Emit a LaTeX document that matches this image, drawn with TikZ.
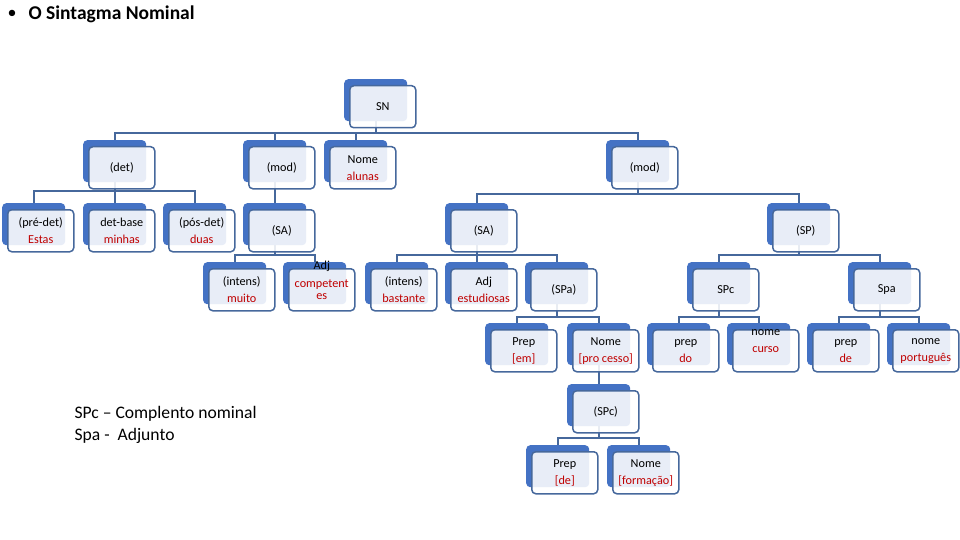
\documentclass[tikz,border=0pt]{standalone}
\usepackage{fontspec}
\setmainfont{Carlito}
\usetikzlibrary{calc}
\definecolor{backblue}{HTML}{4472C4}
\definecolor{edgeblue}{HTML}{46689C}
\definecolor{wred}{HTML}{C00000}
\pgfdeclarelayer{bg}
\pgfsetlayers{bg,main}
\tikzset{
  backbox/.style={draw=none, fill=backblue, rounded corners=4pt, minimum width=63pt, minimum height=42pt, inner sep=0pt, anchor=north west},
  frontbox/.style={draw=edgeblue, line width=1.5pt, fill=white, fill opacity=0.88, rounded corners=4pt, minimum width=66pt, minimum height=42pt, inner sep=0pt, anchor=north west},
  lbl/.style={align=center, font=\fontsize{12.2}{17}\selectfont, text=black, inner sep=0pt},
  conn/.style={draw=edgeblue, line width=1.6pt},
}
\newcommand{\tnode}[5][]{%
  \node[backbox] (#2) at (#3,#4) {};
  \node[frontbox] (#2-f) at ($(#2.north west)+(5,6)$) {};
  \node[lbl,#1] (#2-t) at (#2-f.center) {#5};
}
\newcommand{\red}[1]{\textcolor{wred}{#1}}
\newcommand{\conn}[3]{%
  \path (0,#3) coordinate (tmpy);
  \draw[conn] (#1.south) |- (#2.north |- tmpy) -- (#2.north);
}
\begin{document}
\begin{tikzpicture}[x=1pt,y=-1pt]
\useasboundingbox (0,0) rectangle (960,540);
% title
\node[anchor=center, font=\fontsize{18}{22}\selectfont] (bullet) at (12,14) {•};
\node[anchor=west, font=\fontsize{19.5}{22}\selectfont\bfseries] (title) at (25,14) {O Sintagma Nominal};
% legend
\node[anchor=west, align=left, font=\fontsize{17.6}{22}\selectfont] (legend) at (71,425) {SPc -- Complento nominal\\Spa -\ \ Adjunto};
% tree nodes
\tnode{sn}{344}{79}{SN}
\tnode{det}{83}{140}{(det)}
\tnode{modl}{243}{140}{(mod)}
\tnode{nome}{324}{140}{Nome\\\red{alunas}}
\tnode{modr}{606}{140}{(mod)}
\tnode{predet}{2}{203}{(pré-det)\\\red{Estas}}
\tnode{detbase}{83}{203}{det-base\\\red{minhas}}
\tnode{posdet}{163}{203}{(pós-det)\\\red{duas}}
\tnode{sal}{243}{203}{(SA)}
\tnode{sam}{445}{203}{(SA)}
\tnode{sp}{767}{203}{(SP)}
\tnode{muito}{203}{262}{(intens)\\\red{muito}}
\tnode[yshift=9pt, font=\fontsize{12.2}{12}\selectfont]{compet}{283}{262}{Adj\\[6pt]\red{competent}\\\red{es}}
\tnode{bastante}{365}{262}{(intens)\\\red{bastante}}
\tnode{estud}{445}{262}{Adj\\\red{estudiosas}}
\tnode{spa}{525}{262}{(SPa)}
\tnode{spc}{687}{262}{SPc}
\tnode{spadj}{848}{262}{Spa}
\tnode{prepem}{485}{323}{Prep\\\red{[em]}}
\tnode{nomeproc}{567}{323}{Nome\\\red{[pro cesso]}}
\tnode{prepdo}{647}{323}{prep\\\red{do}}
\tnode[yshift=9.5pt]{nomecurso}{727}{323}{nome\\\red{curso}}
\tnode{prepde}{807}{323}{prep\\\red{de}}
\tnode{nomeport}{887}{323}{nome\\\red{português}}
\tnode{spcb}{567}{384}{(SPc)}
\tnode{prepdeb}{526}{445}{Prep\\\red{[de]}}
\tnode{nomeform}{607}{445}{Nome\\\red{[formação]}}
% connectors
\begin{pgfonlayer}{bg}
\conn{sn}{det}{133}
\conn{sn}{modl}{133}
\conn{sn}{nome}{133}
\conn{sn}{modr}{133}
\conn{det}{predet}{191}
\conn{det}{detbase}{191}
\conn{det}{posdet}{191}
\draw[conn] (modl.south) -- (sal.north);
\conn{modr}{sam}{194}
\conn{modr}{sp}{194}
\conn{sal}{muito}{255}
\conn{sal}{compet}{255}
\conn{sam}{bastante}{255}
\conn{sam}{estud}{255}
\conn{sam}{spa}{255}
\conn{sp}{spc}{255}
\conn{sp}{spadj}{255}
\conn{spa}{prepem}{317}
\conn{spa}{nomeproc}{317}
\conn{spc}{prepdo}{317}
\conn{spc}{nomecurso}{317}
\conn{spadj}{prepde}{317}
\conn{spadj}{nomeport}{317}
\draw[conn] (nomeproc.south) -- (spcb.north);
\conn{spcb}{prepdeb}{438}
\conn{spcb}{nomeform}{438}
\end{pgfonlayer}
\end{tikzpicture}
\end{document}
